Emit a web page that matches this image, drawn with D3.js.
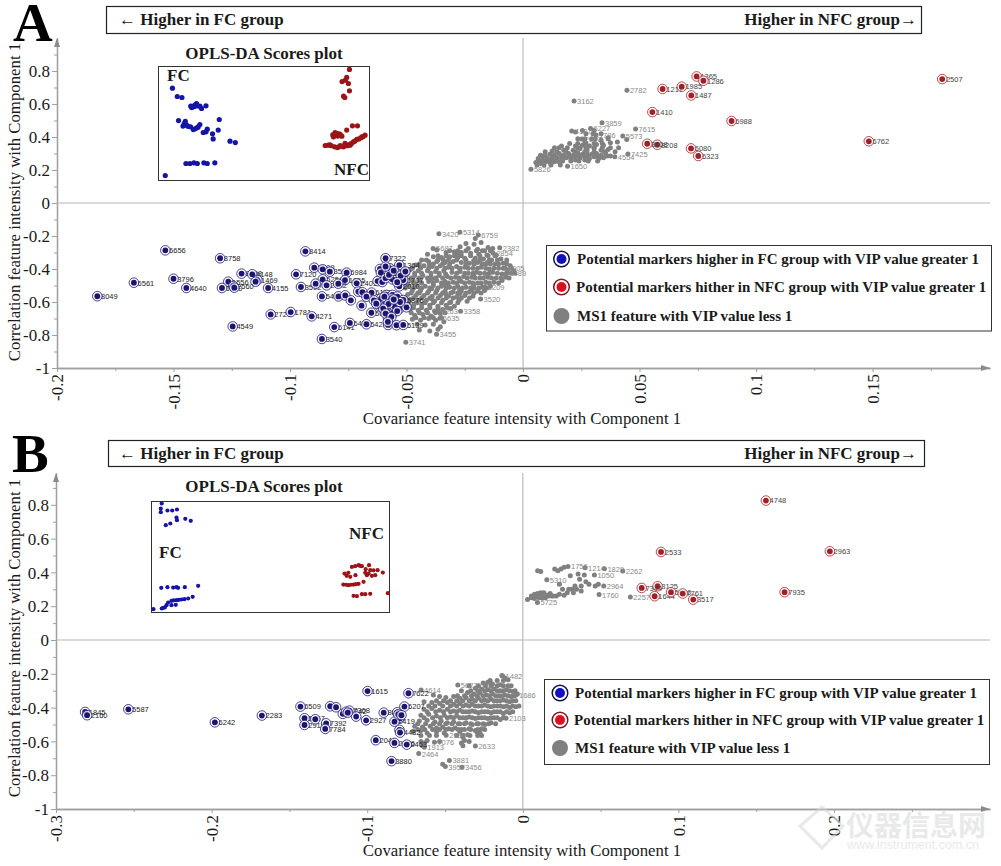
<!DOCTYPE html>
<html>
<head>
<meta charset="utf-8">
<title>OPLS-DA S-plots</title>
<script src="https://cdn.jsdelivr.net/npm/d3@7"></script>
<style>
  html, body { margin: 0; padding: 0; background: #fff; }
  svg { display: block; }
  text { font-family: "Liberation Serif", serif; fill: #1a1a1a; }
  .ptLabel { font-family: "Liberation Sans", sans-serif; font-size: 7.5px; }
</style>
</head>
<body>
<svg id="chart" width="1001" height="866"></svg>
<script>
const legendLabels = [
  'Potential markers higher in FC group with VIP value greater 1',
  'Potential markers hither in NFC group with VIP value greater 1',
  'MS1 feature with VIP value less 1'
]
const yTicks = [0.8, 0.6, 0.4, 0.2, 0, -0.2, -0.4, -0.6, -0.8, -1]
const yMinor = [0.9, 0.7, 0.5, 0.3, 0.1, -0.1, -0.3, -0.5, -0.7, -0.9]
const xTicksA = [-0.2, -0.15, -0.1, -0.05, 0, 0.05, 0.1, 0.15]
const xMinorA = [-0.175, -0.125, -0.075, -0.025, 0.025, 0.075, 0.125, 0.175]
const xTicksB = [-0.3, -0.2, -0.1, 0, 0.1, 0.2]
const xMinorB = [-0.25, -0.15, -0.05, 0.05, 0.15, 0.25]

// panel A, features: [id, covariance, correlation]
const aBlue = [
  ['6656', -0.1535, -0.287], ['8758', -0.130, -0.335], ['8414', -0.0934, -0.293], ['7322', -0.059, -0.335],
  ['6561', -0.167, -0.483], ['3796', -0.150, -0.459], ['4640', -0.1445, -0.515], ['8049', -0.1827, -0.565],
  ['4549', -0.1246, -0.748], ['2729', -0.1083, -0.675], ['1781', -0.0997, -0.661], ['4271', -0.0907, -0.687],
  ['3540', -0.0863, -0.824], ['6141', -0.081, -0.752], ['4155', -0.1094, -0.515], ['7120', -0.0974, -0.432],
  ['1556', -0.1265, -0.477], ['8648', -0.1208, -0.428], ['6148', -0.1162, -0.432], ['1469', -0.1140, -0.467],
  ['', -0.1148, -0.477], ['1590', -0.1292, -0.515], ['2560', -0.1243, -0.503], ['', -0.1239, -0.513],
  ['3592', -0.0953, -0.509],
  ['7509', -0.0896, -0.392], ['', -0.0860, -0.402], ['3593', -0.0829, -0.416], ['6984', -0.0757, -0.422],
  ['5254', -0.0860, -0.463], ['1855', -0.0764, -0.467], ['', -0.0890, -0.489], ['2442', -0.0843, -0.499],
  ['', -0.0793, -0.489], ['2401', -0.0714, -0.487], ['', -0.0624, -0.473], ['', -0.0604, -0.479],
  ['2010', -0.0531, -0.505], ['', -0.0560, -0.463], ['', -0.0571, -0.396], ['', -0.0614, -0.400],
  ['', -0.0610, -0.422], ['1364', -0.0531, -0.376], ['', -0.0543, -0.426], ['1707', -0.0514, -0.467],
  ['5408', -0.0863, -0.566], ['', -0.0792, -0.566], ['', -0.0763, -0.560], ['', -0.0739, -0.590],
  ['', -0.0707, -0.537], ['', -0.0689, -0.541], ['6120', -0.0650, -0.543], ['', -0.0672, -0.568],
  ['', -0.0693, -0.622], ['5018', -0.0651, -0.665], ['6401', -0.0743, -0.727], ['5421', -0.0672, -0.735],
  ['', -0.0579, -0.739], ['', -0.0543, -0.741], ['5139', -0.0514, -0.739], ['', -0.0579, -0.699],
  ['', -0.0587, -0.557], ['', -0.0560, -0.557], ['', -0.0539, -0.567], ['', -0.0623, -0.604],
  ['', -0.0601, -0.608], ['', -0.0571, -0.598], ['', -0.0543, -0.608], ['', -0.0529, -0.638],
  ['', -0.0579, -0.648], ['', -0.0560, -0.669], ['5876', -0.0514, -0.588], ['', -0.0500, -0.632],
  ['', -0.0587, -0.588], ['', -0.0609, -0.578], ['', -0.0640, -0.590], ['', -0.0615, -0.625],
  ['', -0.0573, -0.620], ['', -0.0550, -0.630], ['', -0.0528, -0.600], ['', -0.0565, -0.578],
  ['', -0.0595, -0.568], ['', -0.0577, -0.612], ['', -0.0555, -0.585], ['', -0.0540, -0.655],
  ['', -0.0600, -0.640], ['', -0.0630, -0.610], ['', -0.0590, -0.670], ['', -0.0565, -0.690],
  ['', -0.0580, -0.720], ['', -0.0590, -0.455], ['', -0.0575, -0.435], ['', -0.0555, -0.410],
  ['', -0.0590, -0.385], ['', -0.0525, -0.440], ['', -0.0540, -0.480], ['', -0.0505, -0.415]
]
const aRed = [
  ['2507', 0.1799, 0.751], ['6762', 0.1484, 0.374], ['6988', 0.0895, 0.497], ['1365', 0.0745, 0.767],
  ['1286', 0.0774, 0.741], ['1985', 0.0681, 0.705], ['1217', 0.0599, 0.691], ['1487', 0.0722, 0.652],
  ['1410', 0.0555, 0.551], ['6080', 0.0721, 0.331], ['6323', 0.0752, 0.285], ['8208', 0.0576, 0.353],
  ['3608', 0.0533, 0.359]
]
const aGreyNamed = [
  ['3420', -0.0361, -0.186], ['5314', -0.0271, -0.178], ['6759', -0.0192, -0.194], ['2382', -0.0100, -0.271],
  ['5687', -0.0386, -0.275], ['2854', -0.0128, -0.305], ['4005', -0.0078, -0.396], ['4489', -0.0071, -0.426],
  ['6209', -0.0164, -0.507], ['3520', -0.0182, -0.582], ['3358', -0.0268, -0.656], ['6635', -0.0357, -0.699],
  ['3455', -0.0371, -0.796], ['3741', -0.0503, -0.844], ['3263', -0.0364, -0.652], ['2782', 0.0446, 0.683],
  ['3162', 0.0219, 0.618], ['7615', 0.0483, 0.448], ['3859', 0.0339, 0.487], ['5573', 0.0428, 0.406],
  ['7425', 0.0450, 0.297], ['1650', 0.0191, 0.222], ['5826', 0.0034, 0.204], ['4554', 0.0394, 0.281],
  ['2087', 0.0252, 0.388], ['1786', 0.0313, 0.412], ['4127', 0.0209, 0.436], ['6227', 0.0290, 0.452]
]
const aGreyCloud = [
  [-.0205, -.215], [-.0245, -.245], [-.021, -.25], [-.018, -.24], [-.015, -.27], [-.027, -.265], [-.0235, -.275], [-.0195, -.28], [-.0165, -.29], [-.013, -.275],
  [-.037, -.285], [-.033, -.3], [-.0295, -.295], [-.0265, -.3], [-.0225, -.305], [-.019, -.31], [-.0155, -.315], [-.0115, -.315], [-.041, -.31], [-.0385, -.325],
  [-.035, -.33], [-.0315, -.325], [-.028, -.33], [-.025, -.335], [-.0205, -.335], [-.017, -.34], [-.0135, -.345], [-.0095, -.34], [-.0435, -.345], [-.0405, -.355],
  [-.037, -.355], [-.0335, -.36], [-.03, -.355], [-.0265, -.36], [-.023, -.365], [-.0195, -.36], [-.016, -.37], [-.012, -.37], [-.0085, -.365], [-.0055, -.38],
  [-.046, -.375], [-.0425, -.38], [-.039, -.385], [-.0355, -.38], [-.032, -.39], [-.0285, -.385], [-.025, -.39], [-.0215, -.395], [-.018, -.39], [-.0145, -.4],
  [-.0105, -.395], [-.0065, -.405], [-.004, -.41], [-.0485, -.405], [-.045, -.41], [-.041, -.41], [-.0375, -.415], [-.034, -.41], [-.0305, -.42], [-.027, -.415],
  [-.0235, -.425], [-.02, -.42], [-.0165, -.425], [-.013, -.42], [-.009, -.43], [-.005, -.425], [-.05, -.435], [-.0465, -.44], [-.043, -.44], [-.0395, -.445],
  [-.036, -.44], [-.0325, -.445], [-.029, -.45], [-.0255, -.445], [-.022, -.45], [-.0185, -.455], [-.015, -.45], [-.0115, -.455], [-.0075, -.45], [-.0505, -.465],
  [-.0475, -.47], [-.0445, -.47], [-.0405, -.475], [-.037, -.47], [-.0335, -.475], [-.03, -.48], [-.0265, -.475], [-.023, -.48], [-.0195, -.485], [-.016, -.48],
  [-.0125, -.48], [-.009, -.47], [-.049, -.5], [-.0455, -.5], [-.042, -.505], [-.0385, -.5], [-.035, -.505], [-.0315, -.51], [-.028, -.505], [-.0245, -.51],
  [-.021, -.515], [-.0175, -.51], [-.014, -.505], [-.0475, -.53], [-.044, -.53], [-.0405, -.535], [-.037, -.53], [-.0335, -.535], [-.03, -.54], [-.0265, -.535],
  [-.023, -.54], [-.0195, -.535], [-.0165, -.53], [-.0495, -.555], [-.046, -.56], [-.0425, -.56], [-.039, -.565], [-.0355, -.56], [-.032, -.565], [-.0285, -.57],
  [-.025, -.56], [-.0215, -.565], [-.0485, -.585], [-.045, -.59], [-.0415, -.59], [-.038, -.595], [-.0345, -.59], [-.031, -.6], [-.0275, -.59], [-.024, -.595],
  [-.047, -.62], [-.0435, -.615], [-.04, -.62], [-.0365, -.625], [-.033, -.62], [-.0295, -.625], [-.0485, -.645], [-.045, -.65], [-.0415, -.65], [-.038, -.655],
  [-.0345, -.645], [-.031, -.64], [-.0465, -.68], [-.043, -.675], [-.0395, -.685], [-.0355, -.67], [-.0475, -.705], [-.044, -.71], [-.0405, -.7], [-.0375, -.71],
  [-.034, -.72], [-.0455, -.735], [-.042, -.74], [-.0385, -.735], [-.0355, -.75], [-.0445, -.77], [-.04, -.775], [-.0365, -.765],
  [-.0282, -.31], [-.0342, -.345], [-.0402, -.37], [-.0212, -.35], [-.0152, -.36], [-.0272, -.4], [-.0332, -.43], [-.0392, -.46], [-.0212, -.435], [-.0152, -.44],
  [-.0272, -.465], [-.0332, -.495], [-.0392, -.52], [-.0212, -.5], [-.0272, -.525], [-.0332, -.55], [-.0392, -.58], [-.0452, -.545], [-.0272, -.55], [-.0222, -.525]
]
// rows of the dense part: [correlation, covariances]
const aGreyRows = [
  [-.29, [-.0315, -.028, -.0245, -.02, -.0175, -.014]],
  [-.32, [-.0365, -.033, -.0295, -.0265, -.0225, -.0185, -.015, -.012]],
  [-.345, [-.0415, -.0365, -.032, -.0285, -.0245, -.0185, -.0145, -.011, -.007]],
  [-.37, [-.0445, -.0385, -.0345, -.0315, -.0245, -.021, -.0175, -.014, -.0105, -.007]],
  [-.395, [-.0475, -.044, -.0405, -.037, -.0335, -.0305, -.027, -.0235, -.0195, -.016, -.0125, -.0085, -.005]],
  [-.425, [-.0495, -.0465, -.0435, -.0395, -.036, -.0285, -.025, -.0215, -.0185, -.0145, -.011, -.007, -.0035]],
  [-.455, [-.048, -.0445, -.041, -.0375, -.0345, -.031, -.0275, -.024, -.0205, -.017, -.0135, -.0095, -.006]],
  [-.485, [-.0505, -.047, -.0435, -.0385, -.035, -.032, -.0285, -.025, -.0215, -.018, -.0145, -.0105]],
  [-.515, [-.0505, -.047, -.0435, -.04, -.0365, -.033, -.0295, -.026, -.0225, -.019, -.0155]],
  [-.545, [-.048, -.0445, -.041, -.0375, -.0345, -.031, -.028, -.0245, -.021, -.018]],
  [-.575, [-.0505, -.047, -.0435, -.04, -.0365, -.033, -.03, -.0265, -.023]],
  [-.605, [-.049, -.0455, -.042, -.0385, -.035, -.0315, -.028]],
  [-.635, [-.047, -.0435, -.04, -.0365, -.0325]],
  [-.665, [-.048, -.0445, -.041, -.0375, -.0335]],
  [-.695, [-.046, -.0425, -.0385, -.035]]
]
const aGreyUpper = [
  [.0075, .29], [.0095, .285], [.0115, .295], [.0135, .29], [.0155, .3], [.0175, .29], [.0195, .3], [.0215, .29], [.0235, .305], [.0255, .295],
  [.0275, .305], [.0295, .295], [.0315, .3], [.0335, .29], [.0355, .3], [.0375, .285], [.0065, .27], [.0085, .26], [.0105, .27], [.0125, .265],
  [.0145, .275], [.0165, .27], [.0185, .275], [.0205, .27], [.0225, .28], [.0245, .275], [.0265, .28], [.0285, .27], [.0305, .28], [.0325, .27],
  [.0345, .275], [.0055, .245], [.0075, .24], [.0095, .25], [.0115, .245], [.0135, .25], [.0155, .25], [.0225, .26], [.0265, .26], [.0125, .315],
  [.0175, .32], [.0215, .32], [.0245, .33], [.0275, .325], [.0305, .33], [.0335, .32], [.0365, .325], [.0395, .31], [.0165, .345], [.0155, .335],
  [.0225, .345], [.0255, .35], [.0285, .345], [.0315, .355], [.0345, .35], [.0375, .365], [.0405, .37], [.0445, .385], [.0265, .37], [.0295, .39],
  [.0225, .43], [.0255, .44], [.0305, .44], [.0335, .38], [.0365, .395]
]
const aGreyUpperRows = [
  [.23, [.006, .009, .012, .016]],
  [.255, [.007, .0105, .0135, .017, .0205, .024, .028, .032]],
  [.285, [.0085, .0125, .0165, .02, .024, .028, .032, .036]],
  [.31, [.0095, .0145, .0185, .0225, .0265, .0305, .035]],
  [.335, [.0135, .019, .0235, .027, .0305, .034, .0375, .041]],
  [.36, [.02, .0235, .027, .0305, .034]],
  [.39, [.0235, .0265, .031, .0365]],
  [.42, [.027, .03, .0335]]
]

// panel A, scores plot inset: [score percent across box, score percent up box]
const aScoresFc = [
  [3.2, 4.4], [6.6, 81], [8.9, 73.7], [11.1, 72.8], [9.5, 52.6], [12.7, 51.8], [11.6, 47.7], [13.3, 48.5], [15.2, 47.1], [16.5, 44.7],
  [18.4, 46.5], [19.6, 49.1], [21.2, 42.1], [23.1, 45], [22.5, 42.7], [25.6, 40.9], [25.9, 36.5], [28.3, 44.2], [28.8, 53.5], [33.9, 34.5],
  [36.4, 33.3], [15.3, 65.2], [17.2, 66.1], [18, 67.5], [19.6, 65.2], [20.4, 63.2], [22.5, 65.5], [16.5, 64.6], [13, 14.9], [14.9, 14.9],
  [16.8, 15.5], [18.4, 14.9], [21.5, 15.5], [23.1, 14.9], [26.7, 15.5], [12.2, 50], [14, 47.5], [17.5, 45.5], [18.8, 47], [17, 65],
  [18.5, 65.5], [15.7, 64]
]
const aScoresNfc = [
  [90.5, 97.4], [87, 86.8], [89.2, 90.4], [90, 85.1], [88.6, 88], [90.5, 78.7], [87.7, 74], [88.3, 72.8], [79, 30.7], [81.3, 31.3],
  [84.8, 28.9], [86.1, 30.7], [88.4, 32.5], [90, 31.3], [92.4, 33.9], [94, 36], [96.4, 38.3], [97.9, 39.8], [82.6, 40], [84.5, 41.2],
  [86.1, 40.4], [89.2, 44.2], [91.9, 48], [94.3, 48], [82.9, 38.3], [86.9, 38.9], [90.8, 31], [87.7, 29.5], [85, 39], [83.7, 42],
  [80.5, 31], [82, 30.5], [83.5, 29.5], [85.5, 29.5], [87, 30], [88.5, 31], [89.5, 30.5], [91, 32], [91.5, 32.5], [93, 34.5],
  [95, 36.5], [96, 37.5], [97, 38.5], [83, 38.5], [84, 39.5], [85.5, 41], [83.5, 41]
]

// panel B, features: [id, covariance, correlation]
const bBlue = [
  ['1845', -0.2813, -0.426], ['2160', -0.2800, -0.445], ['5587', -0.2535, -0.410], ['6242', -0.1979, -0.487],
  ['2283', -0.1677, -0.447], ['6509', -0.1429, -0.394], ['5467', -0.1403, -0.463], ['2915', -0.1403, -0.503],
  ['', -0.1334, -0.469], ['7392', -0.1264, -0.493], ['7784', -0.1270, -0.526], ['', -0.1238, -0.392],
  ['', -0.1200, -0.398], ['', -0.1157, -0.437], ['3242', -0.1135, -0.424], ['7368', -0.1114, -0.418],
  ['', -0.1071, -0.453], ['2927', -0.1007, -0.475], ['1615', -0.0998, -0.302], ['8606', -0.0894, -0.430],
  ['7622', -0.0735, -0.315], ['6207', -0.0761, -0.394], ['', -0.0808, -0.428], ['', -0.0793, -0.463],
  ['2419', -0.0825, -0.483], ['', -0.0793, -0.532], ['4482', -0.0789, -0.548], ['2046', -0.0945, -0.593],
  ['2076', -0.0825, -0.609], ['2463', -0.0746, -0.619], ['3880', -0.0844, -0.717], ['', -0.0800, -0.440],
  ['', -0.0780, -0.445], ['', -0.1125, -0.430]
]
const bRed = [
  ['4748', 0.1562, 0.825], ['2533', 0.0888, 0.521], ['2963', 0.1973, 0.525], ['7935', 0.1682, 0.283],
  ['3125', 0.0866, 0.318], ['7344', 0.0764, 0.308], ['1644', 0.0847, 0.259], ['5610', 0.0952, 0.283],
  ['7761', 0.1027, 0.275], ['3517', 0.1095, 0.239]
]
const bGreyNamed = [
  ['4614', -0.0654, -0.296], ['3881', -0.0472, -0.713], ['3456', -0.0391, -0.753], ['3957', -0.0498, -0.749],
  ['', -0.0515, -0.735], ['2464', -0.0669, -0.672], ['1913', -0.0633, -0.635], ['7076', -0.0568, -0.605],
  ['2937', -0.0493, -0.564], ['2633', -0.0305, -0.627], ['2103', -0.0108, -0.463], ['1686', -0.0044, -0.325],
  ['1482', -0.0130, -0.213], ['5627', -0.0418, -0.266], ['2262', 0.0642, 0.409], ['1829', 0.0524, 0.421],
  ['1214', 0.0400, 0.427], ['5310', 0.0154, 0.356], ['2257', 0.0691, 0.255], ['1760', 0.0490, 0.269],
  ['5725', 0.0094, 0.222], ['1756', 0.0290, 0.435], ['1050', 0.0460, 0.385], ['2964', 0.0520, 0.320]
]
const bGreyCloud = [
  [-.0135, -.21], [-.0115, -.225], [-.0165, -.24], [-.0095, -.235], [-.0225, -.25], [-.0195, -.26], [-.0255, -.255], [-.0145, -.265], [-.0075, -.27], [-.0345, -.27],
  [-.0305, -.285], [-.0265, -.29], [-.0225, -.295], [-.0185, -.29], [-.0145, -.3], [-.0105, -.295], [-.0065, -.305], [-.0395, -.3], [-.0355, -.31], [-.0315, -.32],
  [-.0275, -.315], [-.0235, -.325], [-.0195, -.32], [-.0155, -.33], [-.0115, -.325], [-.0075, -.335], [-.0035, -.32], [-.0575, -.325], [-.0535, -.335], [-.0495, -.34],
  [-.0445, -.335], [-.0405, -.345], [-.0365, -.34], [-.0325, -.35], [-.0285, -.345], [-.0245, -.355], [-.0205, -.35], [-.0165, -.36], [-.0125, -.355], [-.0085, -.365],
  [-.0045, -.36], [-.0635, -.365], [-.0585, -.37], [-.0535, -.375], [-.0485, -.37], [-.0445, -.38], [-.0405, -.375], [-.0365, -.385], [-.0325, -.38], [-.0285, -.39],
  [-.0245, -.385], [-.0205, -.395], [-.0165, -.39], [-.0125, -.395], [-.0085, -.4], [-.0045, -.395], [-.0635, -.41], [-.0585, -.405], [-.0535, -.415], [-.0485, -.41],
  [-.0445, -.42], [-.0405, -.415], [-.0365, -.425], [-.0325, -.42], [-.0285, -.43], [-.0245, -.425], [-.0205, -.43], [-.0165, -.425], [-.0125, -.435], [-.0085, -.43],
  [-.0655, -.445], [-.0605, -.44], [-.0555, -.45], [-.0505, -.445], [-.0465, -.455], [-.0425, -.45], [-.0385, -.46], [-.0345, -.455], [-.0305, -.465], [-.0265, -.46],
  [-.0225, -.465], [-.0185, -.46], [-.0145, -.47], [-.0665, -.48], [-.0615, -.475], [-.0565, -.485], [-.0525, -.48], [-.0485, -.49], [-.0445, -.485], [-.0405, -.495],
  [-.0365, -.49], [-.0325, -.5], [-.0285, -.495], [-.0245, -.5], [-.0205, -.49], [-.0695, -.51], [-.0645, -.515], [-.0595, -.51], [-.0555, -.52], [-.0515, -.515],
  [-.0475, -.525], [-.0435, -.52], [-.0395, -.53], [-.0345, -.525], [-.0305, -.535], [-.0265, -.525], [-.0705, -.54], [-.0655, -.535], [-.0615, -.55], [-.0555, -.545],
  [-.0505, -.55], [-.0405, -.545], [-.0355, -.56], [-.0275, -.55], [-.0295, -.545], [-.0385, -.575], [-.0375, -.595], [-.0395, -.61], [-.0345, -.6], [-.0385, -.625],
  [-.0635, -.61], [-.0655, -.6], [-.0615, -.595], [-.0535, -.6], [-.0645, -.625]
]
const bGreyRows = [
  [-.24, [-.021, -.0125]],
  [-.27, [-.0285, -.024, -.0205, -.0165, -.0125, -.0095]],
  [-.3, [-.0335, -.029, -.0245, -.0205, -.0165, -.0125, -.0085, -.005]],
  [-.33, [-.042, -.0375, -.033, -.0295, -.0255, -.0215, -.0175, -.0135, -.0095, -.0055]],
  [-.36, [-.0555, -.051, -.0465, -.0425, -.0385, -.0345, -.0305, -.0265, -.0225, -.0185, -.0145, -.0105, -.0065]],
  [-.39, [-.0605, -.0565, -.0515, -.0465, -.0425, -.0385, -.0345, -.0305, -.0265, -.0225, -.0185, -.0145, -.0105, -.0065, -.0025]],
  [-.425, [-.0615, -.056, -.051, -.0465, -.0425, -.0385, -.0345, -.0305, -.0265, -.0225, -.0185, -.0145, -.0105, -.0065]],
  [-.46, [-.0635, -.058, -.053, -.0485, -.0445, -.0405, -.0365, -.0325, -.0285, -.0245, -.0205, -.0165, -.0125]],
  [-.495, [-.0675, -.0625, -.0575, -.0535, -.0495, -.0455, -.0415, -.0375, -.0335, -.0295, -.0255, -.022, -.0175]],
  [-.53, [-.0675, -.063, -.058, -.0535, -.0495, -.0455, -.0415, -.0375, -.0335, -.029, -.0245]],
  [-.565, [-.0655, -.06, -.0555, -.0425, -.0385, -.034, -.029, -.0265]]
]
const bGreyUpper = [
  [.0030, .24], [.0055, .25], [.0075, .27], [.0095, .275], [.0115, .28], [.0135, .28], [.0155, .265], [.0175, .275], [.0195, .26], [.0075, .245],
  [.0105, .25], [.0125, .255], [.0145, .25], [.0215, .26], [.0235, .27], [.0265, .265], [.0285, .28], [.0325, .28], [.0235, .33], [.0295, .3],
  [.0375, .29], [.0335, .32], [.0375, .32], [.0425, .33], [.0465, .32], [.0485, .33], [.0405, .345], [.0365, .36], [.0395, .385], [.0305, .38],
  [.0355, .39], [.0205, .42], [.0225, .41], [.0265, .43], [.0245, .42], [.0095, .41], [.0115, .405], [.0055, .26], [.0085, .26], [.0115, .26],
  [.0165, .26], [.0185, .26], [.0255, .3], [.0315, .3], [.0345, .3], [.0125, .25]
]

// panel B, scores plot inset: [score percent across box, score percent up box]
const bScoresFc = [
  [4.3, 98.2], [3.9, 93.7], [3.9, 90.4], [6.7, 91.9], [8.7, 91.9], [10.7, 92.8], [10.5, 85.6], [10.7, 83.2], [14.2, 84.4], [16.5, 82.6],
  [6, 78.7], [7.9, 80.2], [4.1, 22.2], [6.7, 22.8], [9.1, 22.5], [10.5, 22.8], [11.2, 22.2], [14, 22.8], [19.6, 24], [0.8, 3],
  [4.3, 3.6], [5.6, 4.5], [6.3, 6.6], [7, 9], [8.4, 10.5], [10.5, 11.1], [12.6, 11.7], [15.4, 12.6], [17.3, 14.1], [8.4, 6.6],
  [10.2, 6.9], [4.9, 4.2], [9.3, 11], [11.5, 11.4], [13.8, 12]
]
const bScoresNfc = [
  [81.1, 35.1], [82.7, 35.7], [83.5, 32.1], [82, 33], [85.7, 33.6], [84.2, 41.1], [85.6, 41.7], [87, 42.6], [88.4, 41.7], [91.4, 42.6],
  [89.8, 35.7], [90.5, 33.6], [92.6, 33], [94, 33.6], [91.9, 38.1], [95, 38.1], [97.2, 36], [80.6, 25.2], [82.7, 24.6], [84.9, 25.2],
  [87, 25.8], [89.1, 27.6], [84.9, 15], [86.3, 14.7], [88.4, 16.5], [89.8, 16.5], [91.9, 16.8], [99.3, 17.4], [91.2, 35.1], [81.7, 25],
  [83.8, 25], [85.9, 25.5], [87.7, 42], [90, 39], [93.3, 38]
]

const svg = d3.select('#chart')
const fmt = (d) => String(d)
const expandRows = (rows) => rows.flatMap((r) => r[1].map((c) => [c, r[0]]))

const blue = { ring: '#1b1472', dot: '#1b1472', label: '#222' }
const red = { ring: '#a31f27', dot: '#a31f27', label: '#444' }
const grey = '#808080'

drawPanel({
  letter: 'A', letterX: 13, letterY: 41, headerY: 6, headerX: 106, headerW: 815, headerH: 27,
  x0: 57, x1: 990, xDomain: [-0.2, 0.2004], y0: 38, y1: 368, yDomain: [1, -1],
  xTicks: xTicksA, xMinor: xMinorA, titleY: 424, yTitleCy: 202,
  blue: aBlue, red: aRed, greyNamed: aGreyNamed,
  greyDots: aGreyCloud.concat(aGreyUpper, expandRows(aGreyRows), expandRows(aGreyUpperRows)),
  inset: { x: 158.5, y: 66.5, w: 211, h: 114, r: 2.6, titleY: 59,
    fc: aScoresFc, nfc: aScoresNfc, fcLabel: [167, 81], nfcLabel: [334, 175] },
  legend: { x: 546.5, y: 245.5, w: 445, h: 85.5, dx: 561.5, tx: 577, rows: [259, 287, 316] }
})

drawPanel({
  letter: 'B', letterX: 12, letterY: 472, headerY: 440, headerX: 108, headerW: 816, headerH: 26,
  x0: 56, x1: 990, xDomain: [-0.3, 0.3002], y0: 473, y1: 809, yDomain: [0.9882, -1],
  xTicks: xTicksB, xMinor: xMinorB, titleY: 856, yTitleCy: 638,
  blue: bBlue, red: bRed, greyNamed: bGreyNamed,
  greyDots: bGreyCloud.concat(bGreyUpper, expandRows(bGreyRows)),
  inset: { x: 151.5, y: 501.5, w: 238, h: 111, r: 2.1, titleY: 492,
    fc: bScoresFc, nfc: bScoresNfc, fcLabel: [159, 558], nfcLabel: [349, 539] },
  legend: { x: 544.5, y: 679.5, w: 445, h: 85, dx: 560, tx: 575, rows: [693, 720, 748] }
})

drawWatermark()

function drawPanel (p) {
  const g = svg.append('g')
  const x = d3.scaleLinear().domain(p.xDomain).range([p.x0, p.x1])
  const y = d3.scaleLinear().domain(p.yDomain).range([p.y0, p.y1])

  g.append('text').attr('x', p.letterX).attr('y', p.letterY)
    .style('font-size', '55px').style('font-weight', 'bold').style('fill', '#000').text(p.letter)

  g.append('rect').attr('x', p.headerX + 0.5).attr('y', p.headerY + 0.5)
    .attr('width', p.headerW).attr('height', p.headerH)
    .attr('fill', '#fff').attr('stroke', '#222').attr('stroke-width', 1.2)
  const headerBase = p.headerY + 19
  g.append('text').attr('x', 119).attr('y', headerBase)
    .style('font-size', '17px').style('font-weight', 'bold').text('← Higher in FC group')
  g.append('text').attr('x', 917).attr('y', headerBase).attr('text-anchor', 'end')
    .style('font-size', '17px').style('font-weight', 'bold').text('Higher in NFC group→')

  drawAxes(g, p, x, y)

  // grey below, markers above
  const pts = g.append('g')
  pts.selectAll('circle.grey').data(p.greyDots).join('circle').attr('class', 'grey')
    .attr('cx', (d) => x(d[0])).attr('cy', (d) => y(d[1])).attr('r', 2.5).attr('fill', grey)
  pts.selectAll('circle.greyNamed').data(p.greyNamed).join('circle').attr('class', 'greyNamed')
    .attr('cx', (d) => x(d[1])).attr('cy', (d) => y(d[2])).attr('r', 2.5).attr('fill', grey)
  pts.selectAll('text.greyLabel').data(p.greyNamed).join('text').attr('class', 'ptLabel greyLabel')
    .attr('x', (d) => x(d[1]) + 3).attr('y', (d) => y(d[2]) + 3)
    .style('fill', '#8a8a8a').text((d) => d[0])

  drawMarkers(pts, p.blue, blue, x, y)
  drawMarkers(pts, p.red, red, x, y)

  drawInset(g, p.inset)
  drawLegend(g, p.legend)
}

function drawAxes (g, p, x, y) {
  const axisColor = '#a0a0a0'
  const axisG = g.append('g')

  const yAxis = d3.axisLeft(y).tickValues(yTicks).tickFormat(fmt).tickSize(5).tickSizeOuter(0)
  const yAxisG = axisG.append('g').attr('transform', `translate(${p.x0},0)`).call(yAxis)
  yAxisG.selectAll('text').style('font-size', '17px').attr('dx', 1).attr('dy', '0.33em')
  const yMinorG = d3.axisLeft(y).tickValues(yMinor).tickFormat('').tickSize(3).tickSizeOuter(0)
  axisG.append('g').attr('transform', `translate(${p.x0},0)`).call(yMinorG)

  const xAxis = d3.axisBottom(x).tickValues(p.xTicks).tickFormat(fmt).tickSize(4).tickSizeOuter(0)
  const xAxisG = axisG.append('g').attr('transform', `translate(0,${p.y1})`).call(xAxis)
  xAxisG.selectAll('text').style('font-size', '17px')
    .attr('transform', 'rotate(-90)').attr('text-anchor', 'end')
    .attr('x', -6).attr('y', 0).attr('dy', '0.33em')
  const xMinorG = d3.axisBottom(x).tickValues(p.xMinor).tickFormat('').tickSize(3).tickSizeOuter(0)
  axisG.append('g').attr('transform', `translate(0,${p.y1})`).call(xMinorG)

  axisG.selectAll('path.domain').attr('stroke', axisColor).attr('stroke-width', 1.3)
  axisG.selectAll('.tick line').attr('stroke', axisColor)

  // zero lines
  axisG.append('line').attr('x1', p.x0).attr('x2', p.x1).attr('y1', y(0)).attr('y2', y(0))
    .attr('stroke', '#b5b5b5').attr('stroke-width', 1.1)
  axisG.append('line').attr('x1', x(0)).attr('x2', x(0)).attr('y1', p.y0).attr('y2', p.y1)
    .attr('stroke', '#b5b5b5').attr('stroke-width', 1.1)

  // arrow heads
  axisG.append('path').attr('fill', '#8a8a8a')
    .attr('d', `M${p.x0 - 3},${p.y0 + 9}L${p.x0},${p.y0}L${p.x0 + 3},${p.y0 + 9}Z`)
  axisG.append('path').attr('fill', '#8a8a8a')
    .attr('d', `M${p.x1 - 9},${p.y1 - 3}L${p.x1},${p.y1}L${p.x1 - 9},${p.y1 + 3}Z`)

  g.append('text').attr('x', 522).attr('y', p.titleY).attr('text-anchor', 'middle')
    .style('font-size', '16.8px').text('Covariance feature intensity with Component 1')
  g.append('text').attr('transform', `translate(20,${p.yTitleCy}) rotate(-90)`)
    .attr('text-anchor', 'middle').style('font-size', '16.8px')
    .text('Correlation feature intensity with Component 1')
}

function drawMarkers (pts, data, col, x, y) {
  const m = pts.append('g').selectAll('g').data(data).join('g')
    .attr('transform', (d) => `translate(${x(d[1])},${y(d[2])})`)
  m.append('text').attr('class', 'ptLabel').attr('x', 3.7).attr('y', 2.8)
    .style('fill', col.label).text((d) => d[0])
  m.append('circle').attr('r', 4.8).attr('fill', '#fff').attr('fill-opacity', 0.75)
    .attr('stroke', col.ring).attr('stroke-width', 0.8)
  m.append('circle').attr('r', 2.9).attr('fill', col.dot)
}

function drawInset (g, s) {
  const u = d3.scaleLinear().domain([0, 100]).range([s.x, s.x + s.w])
  const v = d3.scaleLinear().domain([0, 100]).range([s.y + s.h, s.y])

  g.append('text').attr('x', 264).attr('y', s.titleY).attr('text-anchor', 'middle')
    .style('font-size', '17px').style('font-weight', 'bold').text('OPLS-DA Scores plot')
  g.append('rect').attr('x', s.x).attr('y', s.y).attr('width', s.w).attr('height', s.h)
    .attr('fill', '#fff').attr('stroke', '#333').attr('stroke-width', 1)

  g.append('g').selectAll('circle').data(s.fc).join('circle')
    .attr('cx', (d) => u(d[0])).attr('cy', (d) => v(d[1])).attr('r', s.r).attr('fill', '#1414a8')
  g.append('g').selectAll('circle').data(s.nfc).join('circle')
    .attr('cx', (d) => u(d[0])).attr('cy', (d) => v(d[1])).attr('r', s.r).attr('fill', '#9a1418')

  g.append('text').attr('x', s.fcLabel[0]).attr('y', s.fcLabel[1])
    .style('font-size', '17px').style('font-weight', 'bold').text('FC')
  g.append('text').attr('x', s.nfcLabel[0]).attr('y', s.nfcLabel[1])
    .style('font-size', '17px').style('font-weight', 'bold').text('NFC')
}

function drawLegend (g, l) {
  g.append('rect').attr('x', l.x).attr('y', l.y).attr('width', l.w).attr('height', l.h)
    .attr('fill', '#fff').attr('stroke', '#333').attr('stroke-width', 1)

  const rowFill = ['#1212c0', '#dc1020', grey]
  const rowRing = ['#10104a', '#7a1a20', null]

  const rows = g.append('g').selectAll('g').data(legendLabels).join('g')
    .attr('transform', (d, i) => `translate(${l.dx},${l.rows[i]})`)
  rows.filter((d, i) => rowRing[i] !== null).append('circle')
    .attr('r', 7.8).attr('fill', '#fff')
    .attr('stroke', (d, i) => rowRing[i]).attr('stroke-width', 1.5)
  rows.append('circle').attr('r', (d, i) => i === 2 ? 8 : 5)
    .attr('fill', (d, i) => rowFill[i])
  rows.append('text').attr('x', (d, i) => l.tx - l.dx - (i === 1 ? 1 : 0)).attr('y', 5)
    .style('font-size', '15px').style('font-weight', 'bold').text((d) => d)
}

function drawWatermark () {
  const w = svg.append('g').attr('opacity', 0.55)
  w.append('text').attr('x', 846).attr('y', 836)
    .style('font-family', '"Noto Sans CJK SC"').style('font-size', '28px').style('font-weight', 'bold')
    .style('fill', '#d8d8d8').text('仪器信息网')
  w.append('text').attr('x', 847).attr('y', 849)
    .style('font-family', '"Liberation Sans"').style('font-size', '12.5px')
    .style('fill', '#d8d8d8').text('www.instrument.com.cn')
  w.append('path').attr('fill', 'none').attr('stroke', '#d8d8d8').attr('stroke-width', 3)
    .attr('d', 'M822,807L843,826L822,848L800,826Z')
}
</script>
</body>
</html>
